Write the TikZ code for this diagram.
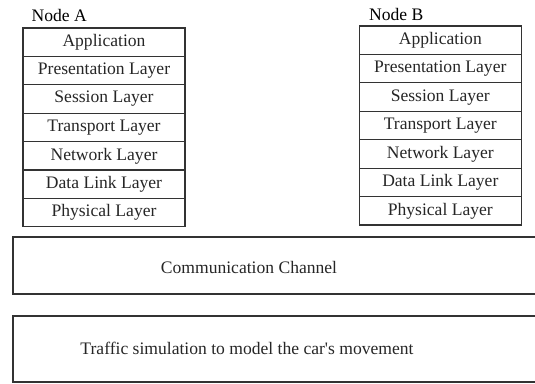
\documentclass[tikz,border=0pt]{standalone}
\usepackage{fontspec}
\setmainfont{Liberation Serif}
\usepackage{tikz}
\usepackage{xcolor}
\usetikzlibrary{positioning, calc}

\definecolor{linegray}{HTML}{333333}
\tikzset{
	layer/.style={draw=linegray, line width=0.65pt, minimum width=3.24cm, minimum height=0.568cm, inner sep=0pt, text=black!85},
	bigbox/.style={draw=linegray, line width=0.75pt, inner sep=0pt}
}

\begin{document}
\begin{tikzpicture}[x=0.02cm, y=-0.02cm]
		\useasboundingbox (0,0) rectangle (535,383);
		
		% Node A stack
		\node[anchor=west] (labelA) at (25.5,15) {Node A};
		\node[layer] (A-app) at (104,42.2) {Application};
		\node[layer] (A-pres) at (104,70.6) {Presentation Layer};
		\node[layer] (A-sess) at (104,99) {Session Layer};
		\node[layer] (A-trans) at (104,127.4) {Transport Layer};
		\node[layer] (A-net) at (104,155.8) {Network Layer};
		\node[layer] (A-link) at (104,184.2) {Data Link Layer};
		\node[layer] (A-phys) at (104,212.6) {Physical Layer};
		
		% Node B stack
		\node[anchor=west] (labelB) at (363,14) {Node B};
		\node[layer] (B-app) at (440.3,40.2) {Application};
		\node[layer] (B-pres) at (440.3,68.6) {Presentation Layer};
		\node[layer] (B-sess) at (440.3,97.1) {Session Layer};
		\node[layer] (B-trans) at (440.3,125.5) {Transport Layer};
		\node[layer] (B-net) at (440.3,153.9) {Network Layer};
		\node[layer] (B-link) at (440.3,182.3) {Data Link Layer};
		\node[layer] (B-phys) at (440.3,210.8) {Physical Layer};
		
		% Channel and traffic boxes
		\node[bigbox, minimum width=10.7cm, minimum height=1.14cm] (channel) at (280.5,265.5) {};
		\node[text=black!85] (channeltext) at (249,267) {Communication Channel};
		\node[bigbox, minimum width=10.7cm, minimum height=1.32cm] (traffic) at (280.5,349) {};
		\node[text=black!85] (traffictext) at (247,348) {Traffic simulation to model the car\textquotesingle s movement};
	\end{tikzpicture}
\end{document}
